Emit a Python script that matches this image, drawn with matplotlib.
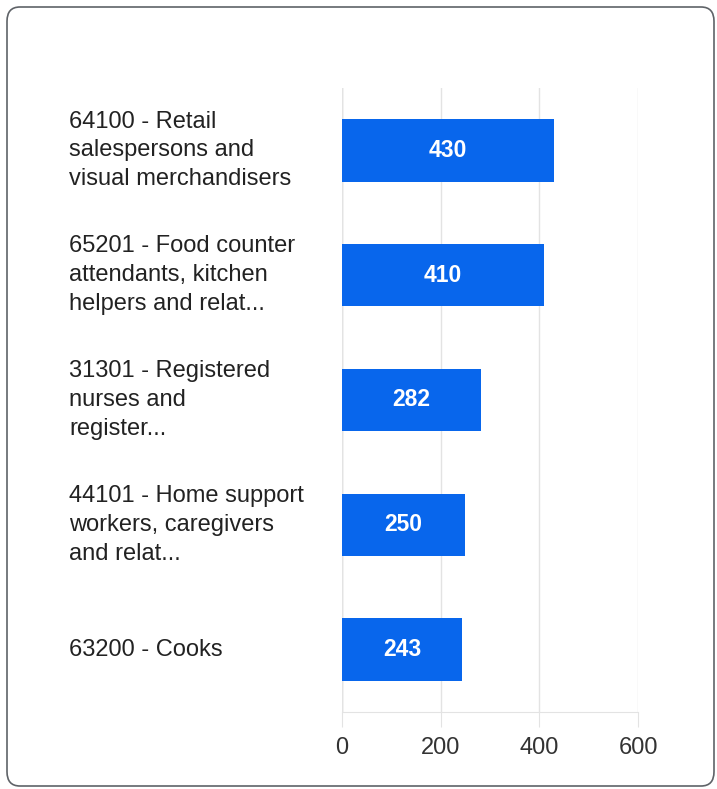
import matplotlib.pyplot as plt
import matplotlib.transforms as mtransforms
from matplotlib.patches import FancyBboxPatch

occupations = ['64100 - Retail\nsalespersons and\nvisual merchandisers',
               '65201 - Food counter\nattendants, kitchen\nhelpers and relat...',
               '31301 - Registered\nnurses and\nregister...',
               '44101 - Home support\nworkers, caregivers\nand relat...',
               '63200 - Cooks']
counts = [430, 410, 282, 250, 243]
xticks = [0, 200, 400, 600]

plt.rcParams['font.family'] = ['Liberation Sans', 'DejaVu Sans']

W, H = 717, 789
fig = plt.figure(figsize=(W / 100, H / 100), dpi=100)

# card border
card = FancyBboxPatch((7 / W, 3 / H), 707 / W, 779 / H,
                      boxstyle='round,pad=0,rounding_size=0.018',
                      transform=fig.transFigure, facecolor='none',
                      edgecolor='#5f6368', linewidth=1.2, zorder=-1)
fig.patches.append(card)

ax = fig.add_axes([342 / W, 1 - 712 / H, 296 / W, 624 / H])
ax.set_facecolor('none')

y = list(range(len(counts)))
ax.barh(y, counts, height=0.5, color='#0866ec', zorder=3)
for yi, c in zip(y, counts):
    ax.text(c / 2, yi, str(c), ha='center', va='center', color='white',
            fontsize=16.5, fontweight='bold', zorder=4)

ax.set_xlim(0, 600)
ax.set_ylim(len(counts) - 0.5, -0.5)
ax.set_xticks(xticks)
ax.set_xticklabels([str(t) for t in xticks], fontsize=17, color='#333333')
ax.set_yticks([])
ax.grid(axis='x', color='#e3e3e3', linewidth=1, zorder=0)
ax.tick_params(axis='x', length=11, color='#e3e3e3', pad=7)
for s in ['top', 'right', 'left']:
    ax.spines[s].set_visible(False)
ax.spines['bottom'].set_color('#e3e3e3')
ax.axvline(0, color='#cfcfcf', linewidth=1, zorder=1)

trans = mtransforms.blended_transform_factory(fig.transFigure, ax.transData)
for yi, lab in zip(y, occupations):
    ax.text(69 / W, yi, lab, transform=trans, ha='left', va='center',
            fontsize=17, color='#222222', linespacing=1.4)

fig.savefig('out.png', dpi=100)
